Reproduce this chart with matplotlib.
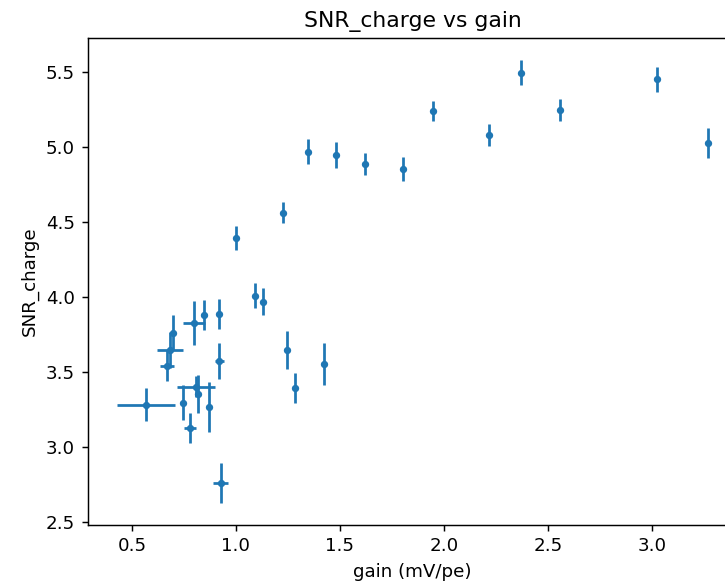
import matplotlib
matplotlib.use("Agg")
import matplotlib.pyplot as plt

# gain (mV/pe) and SNR_charge with uncertainties
gain = [0.568, 0.668, 0.684, 0.697, 0.800, 0.847, 0.921, 0.921, 0.748, 0.809,
        0.818, 0.873, 0.780, 0.927,
        1.001, 1.228, 1.347, 1.482, 1.620, 1.802, 1.094, 1.132, 1.248, 1.285,
        1.424,
        1.950, 2.216, 2.370, 2.559, 3.026, 3.270]
gain_err = [0.138, 0.034, 0.064, 0.010, 0.053, 0.015, 0.010, 0.020, 0.010, 0.090,
            0.012, 0.008, 0.029, 0.037,
            0.005, 0.005, 0.005, 0.005, 0.005, 0.005, 0.005, 0.005, 0.005, 0.005,
            0.005,
            0.004, 0.004, 0.004, 0.004, 0.004, 0.0]
snr = [3.278, 3.541, 3.645, 3.760, 3.823, 3.878, 3.885, 3.571, 3.293, 3.398,
       3.351, 3.267, 3.123, 2.760,
       4.391, 4.560, 4.965, 4.947, 4.885, 4.849, 4.007, 3.967, 3.645, 3.389,
       3.549,
       5.238, 5.076, 5.493, 5.245, 5.449, 5.027]
snr_err = [0.110, 0.105, 0.120, 0.117, 0.145, 0.100, 0.100, 0.117, 0.117, 0.070,
           0.130, 0.167, 0.100, 0.133,
           0.080, 0.068, 0.083, 0.087, 0.072, 0.080, 0.082, 0.090, 0.128, 0.100,
           0.140,
           0.069, 0.074, 0.083, 0.074, 0.083, 0.100]

dpi = 131.5
fig = plt.figure(figsize=(725 / dpi, 583 / dpi), dpi=dpi)
ax = fig.add_axes([0.121, 0.1, 0.8963, 0.8345])

ax.errorbar(gain, snr, xerr=gain_err, yerr=snr_err, fmt=".")
ax.set_title("SNR_charge vs gain")
ax.set_xlabel("gain (mV/pe)")
ax.set_ylabel("SNR_charge")

fig.savefig("out.png", dpi=dpi)
